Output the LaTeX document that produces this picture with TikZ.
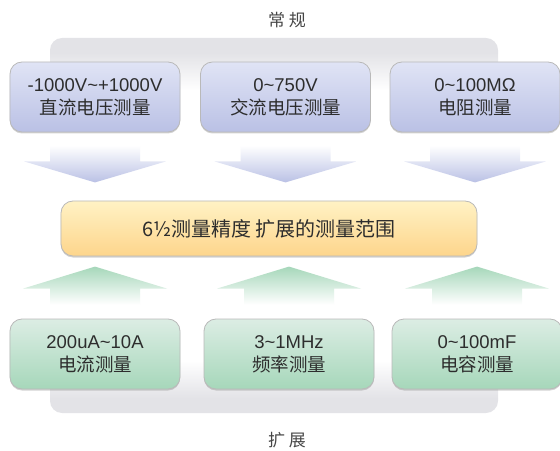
\documentclass[tikz,border=0pt]{standalone}
\usepackage{fontspec}
\setmainfont{Liberation Sans}
\newfontfamily\cjk{Noto Sans CJK SC}
\usepackage{tikz}
\usetikzlibrary{calc,shadows}
\definecolor{panelgray}{RGB}{227,227,231}
\definecolor{lilactop}{RGB}{224,228,245}
\definecolor{lilacbot}{RGB}{186,193,229}
\definecolor{minttop}{RGB}{220,237,228}
\definecolor{mintbot}{RGB}{166,215,186}
\definecolor{goldtop}{RGB}{255,242,196}
\definecolor{goldbot}{RGB}{253,213,140}
\definecolor{inkgray}{RGB}{45,45,45}
\definecolor{capgray}{RGB}{70,70,70}
\pgfdeclareverticalshading{panelfade}{100bp}{color(0bp)=(panelgray); color(25bp)=(panelgray); color(27bp)=(panelgray); color(32bp)=(white); color(68bp)=(white); color(73bp)=(panelgray); color(75bp)=(panelgray); color(100bp)=(panelgray)}

\begin{document}
\begin{tikzpicture}[x=1bp,y=-1bp,
  rangebox/.style={rounded corners=12bp,minimum width=170bp,minimum height=70bp,
    draw=gray!55,line width=0.8bp,align=center,text=inkgray,
    font=\fontsize{18.5bp}{23bp}\selectfont,
    drop shadow={shadow xshift=0bp,shadow yshift=-1.5bp,opacity=.35,fill=gray}},
  stdbox/.style={rangebox,top color=lilactop,bottom color=lilacbot},
  extbox/.style={rangebox,top color=minttop,bottom color=mintbot},
  capfont/.style={text=capgray,font=\cjk\fontsize{17bp}{20bp}\selectfont}]
  \useasboundingbox (0,0) rectangle (560,451);
  % grey panel behind the boxes
  \shade[shading=panelfade,rounded corners=12bp] (50,38) rectangle (498,413);
  \node[capfont] (stdcap) at (287,20) {常 规};
  \node[capfont] (extcap) at (287,440) {扩 展};
  % standard ranges
  \node[stdbox] (t1) at (95,97) {-1000V\textasciitilde+1000V\\{\cjk 直流电压测量}};
  \node[stdbox] (t2) at (285.5,97) {0\textasciitilde750V\\{\cjk 交流电压测量}};
  \node[stdbox] (t3) at (475,97) {0\textasciitilde100MΩ\\{\cjk 电阻测量}};
  % extended ranges
  \node[extbox] (b1) at (95,354) {200uA\textasciitilde10A\\{\cjk 电流测量}};
  \node[extbox] (b2) at (289,354) {3\textasciitilde1MHz\\{\cjk 频率测量}};
  \node[extbox] (b3) at (477,354) {0\textasciitilde100mF\\{\cjk 电容测量}};
  % centre
  \node[rounded corners=12bp,minimum width=416bp,minimum height=55bp,
    draw=gray!55,line width=0.8bp,top color=goldtop,bottom color=goldbot,
    text=inkgray,font=\cjk\fontsize{20bp}{24bp}\selectfont,
    drop shadow={shadow xshift=0bp,shadow yshift=-1.5bp,opacity=.35,fill=gray}]
    (mid) at (269,228.5) {6½测量精度 扩展的测量范围};
  % big arrows
  \foreach \n in {t1,t2,t3}
    \shade[top color=white,bottom color=lilacbot]
      ($(\n.south)+(-45,13)$) -- ($(\n.south)+(45,13)$) -- ($(\n.south)+(45,29)$)
      -- ($(\n.south)+(71,29)$) -- ($(\n.south)+(0,50)$) -- ($(\n.south)+(-71,29)$)
      -- ($(\n.south)+(-45,29)$) -- cycle;
  \foreach \n in {b1,b2,b3}
    \shade[top color=mintbot,bottom color=white]
      ($(\n.north)+(-45,-14)$) -- ($(\n.north)+(45,-14)$) -- ($(\n.north)+(45,-30)$)
      -- ($(\n.north)+(72,-30)$) -- ($(\n.north)+(0,-52)$) -- ($(\n.north)+(-72,-30)$)
      -- ($(\n.north)+(-45,-30)$) -- cycle;
\end{tikzpicture}
\end{document}
